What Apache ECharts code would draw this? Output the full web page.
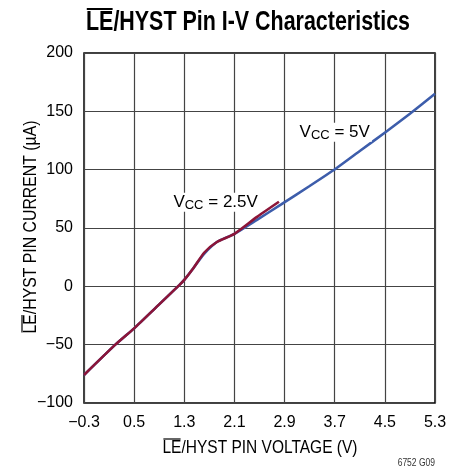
<!DOCTYPE html>
<html>
<head>
<meta charset="utf-8">
<script src="https://cdn.jsdelivr.net/npm/echarts@6/dist/echarts.min.js"></script>
<style>
  html, body { margin: 0; padding: 0; background: #fff; }
  #chart { width: 461px; height: 469px; }
</style>
</head>
<body>
<div id="chart"></div>
<script>
// voltage ticks on x, current ticks on y
var xTicks = [-0.3, 0.5, 1.3, 2.1, 2.9, 3.7, 4.5, 5.3];
var yTicks = [-100, -50, 0, 50, 100, 150, 200];

// VCC = 5V curve (V, uA)
var vcc5X = [-0.3, 0.2, 0.5, 0.87, 1.22, 1.3, 1.45, 1.62, 1.82, 2.1, 2.46, 2.84, 3.3, 3.72, 4.1, 4.52, 4.9, 5.3];
var vcc5Y = [-76, -50, -36, -17, 1, 5.5, 16, 28, 38, 45, 57, 70, 86, 101, 116, 132.5, 148, 165];

// VCC = 2.5V curve
var vcc25X = [-0.3, 0.2, 0.5, 0.87, 1.22, 1.3, 1.45, 1.62, 1.82, 2.1, 2.46, 2.81];
var vcc25Y = [-76, -50, -36, -17, 1, 5.5, 16, 29, 38, 45, 59.5, 72.5];

function pairs(xs, ys) {
    var res = [];
    for (var i = 0; i < xs.length; i++) res.push([xs[i], ys[i]]);
    return res;
}
function minus(v) {
    return String(v).replace('-', '\u2212');
}

var myChart = echarts.init(document.getElementById('chart'));

// no condensed face installed, so text is squeezed with scaleX
var titleFont = 'bold 28px "Liberation Sans", sans-serif';
var nameFont = '18px "Liberation Sans", sans-serif';

var ctx = document.createElement('canvas').getContext('2d');
function measure(font, text) {
    ctx.font = font;
    return ctx.measureText(text).width;
}

// text centred at (cx, cy), squeezed to width w, with an overline over the first two letters
function squeezed(text, font, cx, cy, w, rot, barY, barW) {
    var full = measure(font, text);
    var le = measure(font, 'LE');
    return {
        type: 'group', x: cx, y: cy, rotation: rot, scaleX: w / full,
        children: [
            { type: 'text', x: 0, y: 0, style: { text: text, font: font, fill: '#000', align: 'center', verticalAlign: 'middle' } },
            {
                type: 'line',
                shape: { x1: -full / 2 + 1, y1: barY, x2: -full / 2 + le - 1, y2: barY },
                style: { stroke: '#000', lineWidth: barW }
            }
        ]
    };
}

var subRich = {
    v: { fontSize: 17, fontFamily: 'Liberation Sans', color: '#000' },
    s: { fontSize: 13, fontFamily: 'Liberation Sans', color: '#000', padding: [6, 0, 0, 0] }
};

option = {
    animation: false,
    grid: {
        left: 84, right: 26, top: 53, bottom: 66,
        show: true, borderColor: '#000', borderWidth: 1.5, backgroundColor: 'transparent'
    },
    xAxis: {
        type: 'value',
        min: -0.3, max: 5.3,
        axisLine: { show: false },
        axisTick: { show: false, customValues: xTicks },
        splitLine: { show: true, lineStyle: { color: '#444', width: 1.2 } },
        axisLabel: {
            customValues: xTicks,
            margin: 12,
            color: '#000',
            fontSize: 16,
            fontFamily: 'Liberation Sans',
            formatter: function (v) { return minus(v.toFixed(1)); }
        }
    },
    yAxis: {
        type: 'value',
        min: -100, max: 200, interval: 50,
        axisLine: { show: false },
        axisTick: { show: false },
        splitLine: { show: true, lineStyle: { color: '#444', width: 1.2 } },
        axisLabel: {
            margin: 11,
            color: '#000',
            fontSize: 16,
            fontFamily: 'Liberation Sans',
            formatter: function (v) { return minus(v); }
        }
    },
    series: [
        {
            name: 'VCC = 5V',
            type: 'line',
            data: pairs(vcc5X, vcc5Y),
            smooth: 0.2,
            showSymbol: false,
            lineStyle: { color: '#3d5dab', width: 2.6 },
            markPoint: {
                symbolSize: 0,
                data: [{ coord: [3.7, 132] }],
                label: {
                    show: true, position: 'inside',
                    formatter: '{v|V}{s|CC}{v| = 5V}',
                    backgroundColor: '#fff', padding: [0, 2],
                    rich: subRich
                }
            }
        },
        {
            name: 'VCC = 2.5V',
            type: 'line',
            data: pairs(vcc25X, vcc25Y),
            smooth: 0.2,
            showSymbol: false,
            lineStyle: { color: '#8c1538', width: 2.6 },
            markPoint: {
                symbolSize: 0,
                data: [{ coord: [1.8, 72] }],
                label: {
                    show: true, position: 'inside',
                    formatter: '{v|V}{s|CC}{v| = 2.5V}',
                    backgroundColor: '#fff', padding: [0, 2],
                    rich: subRich
                }
            }
        }
    ],
    graphic: [
        squeezed('LE/HYST Pin I-V Characteristics', titleFont, 248, 22, 324, 0, -13, 2),
        squeezed('LE/HYST PIN VOLTAGE (V)', nameFont, 260, 448, 195, 0, -9, 1.2),
        squeezed('LE/HYST PIN CURRENT (\u00b5A)', nameFont, 31, 227, 213, Math.PI / 2, -9, 1.2),
        {
            type: 'text', right: 26, top: 458,
            style: { text: '6752 G09', font: '10px "Liberation Sans", sans-serif', fill: '#333' },
            scaleX: 0.85
        }
    ]
};

myChart.setOption(option);
window.addEventListener('resize', function () {
    myChart.resize();
});
</script>
</body>
</html>
